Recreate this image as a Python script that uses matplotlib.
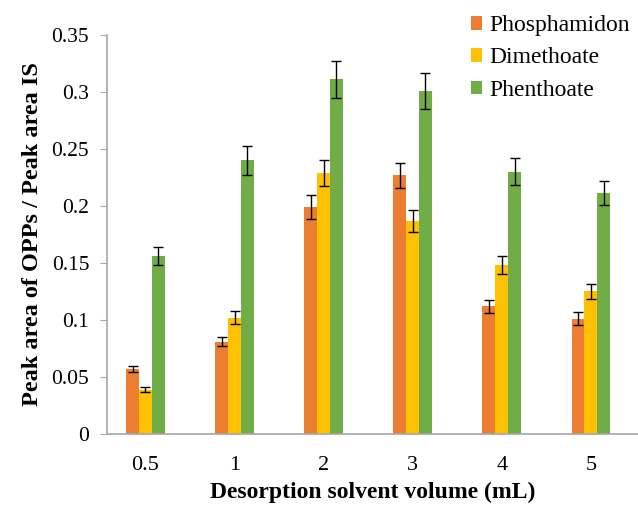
import numpy as np
import matplotlib.pyplot as plt

plt.rcParams['font.family'] = ['Liberation Serif', 'DejaVu Serif']

# Data
volumes = ['0.5', '1', '2', '3', '4', '5']
series = ['Phosphamidon', 'Dimethoate', 'Phenthoate']
phosphamidon = [0.057, 0.081, 0.199, 0.227, 0.112, 0.101]
dimethoate = [0.039, 0.102, 0.229, 0.187, 0.148, 0.125]
phenthoate = [0.156, 0.240, 0.311, 0.301, 0.230, 0.211]
phosphamidon_err = [0.003, 0.004, 0.0105, 0.011, 0.0056, 0.0056]
dimethoate_err = [0.002, 0.0058, 0.0117, 0.0094, 0.0079, 0.0067]
phenthoate_err = [0.008, 0.0126, 0.016, 0.0155, 0.0117, 0.0105]

colors = ['#ED7D31', '#FFC000', '#70AD47']

fig = plt.figure(figsize=(6.38, 5.07), dpi=100)
ax = fig.add_axes([0.168, 0.144, 0.832, 0.787])

x = np.arange(len(volumes))
w = 0.144
values = [phosphamidon, dimethoate, phenthoate]
errors = [phosphamidon_err, dimethoate_err, phenthoate_err]
for i in range(3):
    ax.bar(x + (i - 1) * w, values[i], w, color=colors[i], label=series[i],
           yerr=errors[i], capsize=3.5,
           error_kw=dict(ecolor='black', elinewidth=1, capthick=1))

ax.set_xlim(-0.43, 5.53)
ax.set_ylim(0, 0.35)
ax.set_yticks(np.arange(0, 0.351, 0.05))
ax.set_yticklabels(['0', '0.05', '0.1', '0.15', '0.2', '0.25', '0.3', '0.35'])
ax.set_xticks(x)
ax.set_xticklabels(volumes)

for s in ['top', 'right']:
    ax.spines[s].set_visible(False)
for s in ['left', 'bottom']:
    ax.spines[s].set_color('#a6a6a6')
    ax.spines[s].set_linewidth(1.2)
ax.tick_params(axis='y', length=5, color='#a6a6a6', labelsize=15.5, pad=8)
ax.tick_params(axis='x', length=0, labelsize=16, pad=16)

ax.set_xlabel('Desorption solvent volume (mL)', fontsize=17, fontweight='bold', labelpad=5)
ax.set_ylabel('Peak area of OPPs / Peak area IS', fontsize=17.5, fontweight='bold', labelpad=6)

fig.legend(loc='upper right', bbox_to_anchor=(1.02, 1.012), frameon=False, fontsize=17,
           handlelength=0.5, handleheight=0.5, handletextpad=0.28, labelspacing=0.48)

fig.savefig('out.png', dpi=100)
